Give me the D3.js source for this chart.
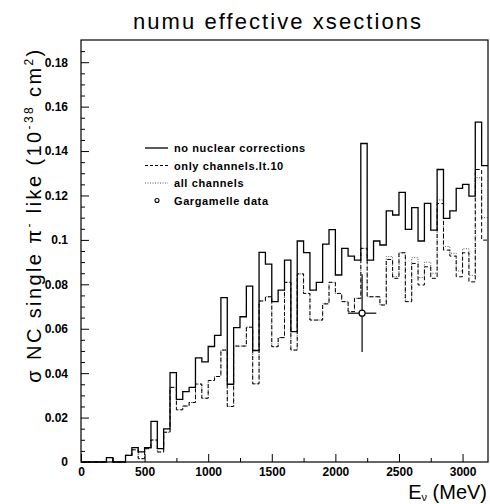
<!DOCTYPE html>
<html>
<head>
<meta charset="utf-8">
<script src="https://cdn.jsdelivr.net/npm/d3@7"></script>
<style>
  body { margin: 0; background: #fff; }
  svg { display: block; font-family: "Liberation Sans", Arial, sans-serif; }
</style>
</head>
<body>
<svg id="chart" width="490" height="504"></svg>
<script>
// bin lower edges (MeV), 50 MeV bins
const eLow = d3.range(0, 3200, 50);

// no nuclear corrections
const noNuclear = [
  0, 0, 0, 0, 0.002, 0, 0, 0.003, 0.0065, 0.0046,
  0.0065, 0.0183, 0.006, 0.0149, 0.0402, 0.0282, 0.0317, 0.0336, 0.0469, 0.0451,
  0.052, 0.057, 0.074, 0.035, 0.0605, 0.0654, 0.0792, 0.0502, 0.0944, 0.0891,
  0.0722, 0.0774, 0.0909, 0.0587, 0.0995, 0.0943, 0.0774, 0.0809, 0.0981, 0.1046,
  0.0842, 0.0962, 0.0927, 0.0909, 0.1434, 0.0909, 0.0995, 0.0977, 0.1131, 0.1112,
  0.1214, 0.1047, 0.1145, 0.0995, 0.1164, 0.1044, 0.1317, 0.1097, 0.1131, 0.1232,
  0.125, 0.1197, 0.153, 0.1334
];

// only channels.lt.10
const onlyLt10 = [
  0, 0, 0, 0, 0.002, 0, 0, 0.003, 0.0055, 0.0015,
  0.006, 0.0099, 0.0045, 0.0134, 0.0336, 0.0235, 0.0252, 0.0268, 0.0351, 0.0287,
  0.0367, 0.0385, 0.0504, 0.025, 0.0522, 0.0522, 0.0607, 0.0352, 0.0725, 0.0744,
  0.0519, 0.056, 0.0809, 0.0504, 0.0847, 0.0759, 0.0639, 0.0639, 0.0712, 0.0809,
  0.0759, 0.0722, 0.0677, 0.0737, 0.0962, 0.0744, 0.0744, 0.0707, 0.0912, 0.0827,
  0.0942, 0.0722, 0.0894, 0.0797, 0.0879, 0.0827, 0.1164, 0.0954, 0.0927, 0.0834,
  0.0942, 0.0811, 0.1317, 0.0999
];

// all channels
const allChannels = [
  0, 0, 0, 0, 0.002, 0, 0, 0.003, 0.0055, 0.0015,
  0.006, 0.0099, 0.0045, 0.0134, 0.0336, 0.0235, 0.0252, 0.0268, 0.0351, 0.0287,
  0.0367, 0.0385, 0.0504, 0.025, 0.0522, 0.0522, 0.0607, 0.0352, 0.0725, 0.0744,
  0.0519, 0.056, 0.0809, 0.0504, 0.0847, 0.0759, 0.0639, 0.0639, 0.0712, 0.0809,
  0.0759, 0.0722, 0.0677, 0.0737, 0.0962, 0.0744, 0.0744, 0.0707, 0.0925, 0.0835,
  0.0942, 0.0722, 0.092, 0.083, 0.090, 0.085, 0.118, 0.097, 0.094, 0.086,
  0.096, 0.084, 0.128, 0.110
];

// Gargamelle point
const garE = [2210], garEerr = [112], garV = [0.067], garVerr = [0.0175];

const xTicks = [0, 500, 1000, 1500, 2000, 2500, 3000];
const xMinor = [250, 750, 1250, 1750, 2250, 2750];
const yTicks = [0, 0.02, 0.04, 0.06, 0.08, 0.1, 0.12, 0.14, 0.16, 0.18];
const yTickLabels = ["0", "0.02", "0.04", "0.06", "0.08", "0.1", "0.12", "0.14", "0.16", "0.18"];
const yMinor = d3.range(0.005, 0.19, 0.005).filter(v => Math.abs(v / 0.02 - Math.round(v / 0.02)) > 1e-6);

const legendLabels = ["no nuclear corrections", "only channels.lt.10", "all channels", "Gargamelle data"];

const svg = d3.select("svg#chart");
const mLeft = 81, mRight = 488, mTop = 40, mBottom = 462;

const x = d3.scaleLinear().domain([0, 3200]).range([mLeft, mRight]);
const y = d3.scaleLinear().domain([0, 0.19]).range([mBottom, mTop]);

svg.append("rect").attr("width", 490).attr("height", 504).attr("fill", "#fff");

// histograms
const hist = vals => {
  const pts = vals.map((v, i) => [eLow[i], v]);
  pts.push([3200, vals[vals.length - 1]]);
  return d3.line().x(d => x(d[0])).y(d => y(d[1])).curve(d3.curveStepAfter)(pts);
};

svg.append("path").attr("d", hist(allChannels))
  .attr("fill", "none").attr("stroke", "#555").attr("stroke-width", 1)
  .attr("stroke-dasharray", "1,1.5");
svg.append("path").attr("d", hist(onlyLt10))
  .attr("fill", "none").attr("stroke", "#000").attr("stroke-width", 1)
  .attr("stroke-dasharray", "4,2.5");
svg.append("path").attr("d", hist(noNuclear))
  .attr("fill", "none").attr("stroke", "#000").attr("stroke-width", 1.3);

// Gargamelle data
const gar = svg.append("g");
garE.forEach((e, i) => {
  gar.append("line").attr("x1", x(e - garEerr[i])).attr("x2", x(e + garEerr[i]))
    .attr("y1", y(garV[i])).attr("y2", y(garV[i])).attr("stroke", "#000").attr("stroke-width", 1.2);
  gar.append("line").attr("x1", x(e)).attr("x2", x(e))
    .attr("y1", y(garV[i] - garVerr[i])).attr("y2", y(garV[i] + garVerr[i])).attr("stroke", "#000").attr("stroke-width", 1.2);
  gar.append("circle").attr("cx", x(e)).attr("cy", y(garV[i])).attr("r", 3)
    .attr("fill", "#fff").attr("stroke", "#000").attr("stroke-width", 1.2);
});

// axes
svg.append("g").attr("transform", `translate(0,${mBottom})`)
  .call(d3.axisBottom(x).tickValues(xTicks).tickSize(-8).tickPadding(5).tickFormat(d3.format("d")));
svg.append("g").attr("transform", `translate(0,${mBottom})`)
  .call(d3.axisBottom(x).tickValues(xMinor).tickSize(-4).tickFormat(""));
svg.append("g").attr("transform", `translate(${mLeft},0)`)
  .call(d3.axisLeft(y).tickValues(yTicks).tickSize(-8).tickPadding(13).tickFormat((d, i) => yTickLabels[i]));
svg.append("g").attr("transform", `translate(${mLeft},0)`)
  .call(d3.axisLeft(y).tickValues(yMinor).tickSize(-4).tickFormat(""));

svg.selectAll(".domain").remove();
svg.selectAll(".tick line").attr("stroke", "#000");
svg.selectAll(".tick text").attr("font-size", 12).attr("font-weight", "bold")
  .attr("font-family", "Liberation Sans, Arial, sans-serif").attr("fill", "#000");

// frame
svg.append("rect").attr("x", mLeft).attr("y", mTop).attr("width", mRight - mLeft).attr("height", mBottom - mTop)
  .attr("fill", "none").attr("stroke", "#000").attr("stroke-width", 1.2);

// title
svg.append("text").attr("x", 277).attr("y", 29).attr("text-anchor", "middle")
  .attr("font-size", 22).attr("textLength", 288).attr("lengthAdjust", "spacing")
  .text("numu effective xsections");

// y label
const yl = svg.append("text").attr("transform", "translate(41,215) rotate(-90)")
  .attr("text-anchor", "middle").attr("font-size", 20).attr("letter-spacing", 2.4);
yl.append("tspan").text("σ NC single π");
yl.append("tspan").attr("font-size", 12).attr("dy", -8).text("-");
yl.append("tspan").attr("dy", 8).text(" like (10");
yl.append("tspan").attr("font-size", 12).attr("dy", -8).text("-38");
yl.append("tspan").attr("dy", 8).text(" cm");
yl.append("tspan").attr("font-size", 12).attr("dy", -8).text("2");
yl.append("tspan").attr("dy", 8).text(")");

// x label
const xl = svg.append("text").attr("x", 487).attr("y", 499).attr("text-anchor", "end").attr("font-size", 20);
xl.append("tspan").text("E");
xl.append("tspan").attr("font-size", 11).attr("dy", 2).text("ν");
xl.append("tspan").attr("dy", -2).text(" (MeV)");

// legend
const legY = [151, 168.5, 186, 203.5];
const leg = svg.append("g");
leg.append("line").attr("x1", 145).attr("x2", 168).attr("y1", legY[0] - 3).attr("y2", legY[0] - 3)
  .attr("stroke", "#000").attr("stroke-width", 1.3);
leg.append("line").attr("x1", 145).attr("x2", 168).attr("y1", legY[1] - 3).attr("y2", legY[1] - 3)
  .attr("stroke", "#000").attr("stroke-width", 1).attr("stroke-dasharray", "3,2");
leg.append("line").attr("x1", 145).attr("x2", 168).attr("y1", legY[2] - 3).attr("y2", legY[2] - 3)
  .attr("stroke", "#555").attr("stroke-width", 1).attr("stroke-dasharray", "1,1.5");
leg.append("circle").attr("cx", 157).attr("cy", legY[3] - 3).attr("r", 2)
  .attr("fill", "#fff").attr("stroke", "#000").attr("stroke-width", 1.1);
leg.selectAll("text").data(legendLabels).enter().append("text")
  .attr("x", 174).attr("y", (d, i) => legY[i] + 1)
  .attr("font-size", 11).attr("font-weight", "bold").attr("letter-spacing", 0.6)
  .text(d => d);
</script>
</body>
</html>
